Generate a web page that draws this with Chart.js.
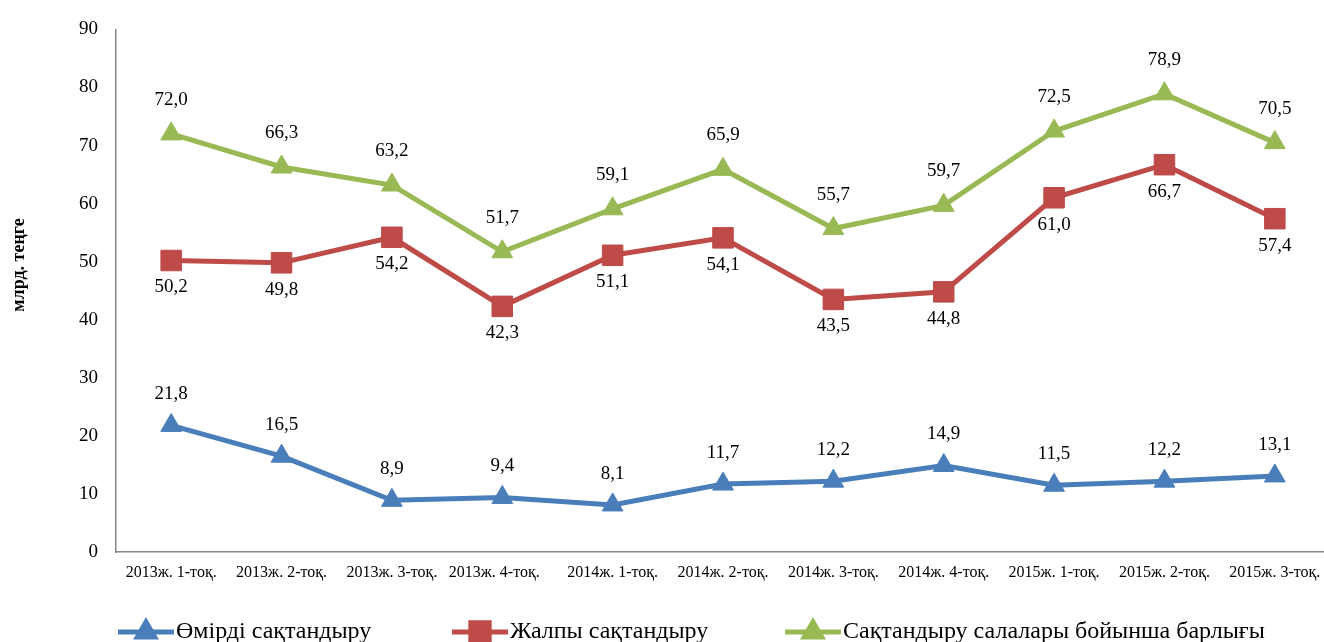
<!DOCTYPE html>
<html>
<head>
<meta charset="utf-8">
<script src="https://cdn.jsdelivr.net/npm/chart.js@4"></script>
<style>
html,body{margin:0;padding:0;overflow:hidden;background:#fff;}
#wrap{width:1332px;height:642px;}
</style>
</head>
<body>
<div id="wrap"><canvas id="c" width="1332" height="642"></canvas></div>
<script>
const categories = ['2013ж. 1-тоқ.', '2013ж. 2-тоқ.', '2013ж. 3-тоқ.', '2013ж. 4-тоқ.    ', '2014ж. 1-тоқ.', '2014ж. 2-тоқ.', '2014ж. 3-тоқ.', '2014ж. 4-тоқ.', '2015ж. 1-тоқ.', '2015ж. 2-тоқ.', '2015ж. 3-тоқ.'];
const lifeInsurance = [21.8, 16.5, 8.9, 9.4, 8.1, 11.7, 12.2, 14.9, 11.5, 12.2, 13.1];
const generalInsurance = [50.2, 49.8, 54.2, 42.3, 51.1, 54.1, 43.5, 44.8, 61.0, 66.7, 57.4];
const totalInsurance = [72.0, 66.3, 63.2, 51.7, 59.1, 65.9, 55.7, 59.7, 72.5, 78.9, 70.5];
const seriesNames = ['Өмірді сақтандыру', 'Жалпы сақтандыру', 'Сақтандыру салалары бойынша барлығы'];
const yTicks = [0, 10, 20, 30, 40, 50, 60, 70, 80, 90];
const yTitle = 'млрд. теңге';

const BLUE = '#4A7EBB', RED = '#BE4B48', GREEN = '#98B954';
const SERIF = '"Liberation Serif", "Times New Roman", serif';

const labelOffsets = [-31, 27, -34];

const dataLabelPlugin = {
  id: 'dataLabels',
  afterDatasetsDraw(chart) {
    const ctx = chart.ctx;
    ctx.save();
    ctx.font = '19px ' + SERIF;
    ctx.fillStyle = '#000';
    ctx.textAlign = 'center';
    ctx.textBaseline = 'middle';
    chart.data.datasets.forEach((ds, di) => {
      const meta = chart.getDatasetMeta(di);
      meta.data.forEach((pt, i) => {
        const v = ds.data[i];
        ctx.fillText(v.toFixed(1).replace('.', ','), pt.x, pt.y + labelOffsets[di]);
      });
    });
    ctx.restore();
  }
};

const extrasPlugin = {
  id: 'extras',
  afterDraw(chart) {
    const ctx = chart.ctx;
    ctx.save();
    ctx.font = 'bold 18px ' + SERIF;
    ctx.fillStyle = '#000';
    ctx.textAlign = 'center';
    ctx.textBaseline = 'middle';
    ctx.translate(19, 265);
    ctx.rotate(-Math.PI / 2);
    ctx.fillText(yTitle, 0, 0);
    ctx.restore();

    ctx.save();
    const colors = [BLUE, RED, GREEN];
    const styles = ['triangle', 'rect', 'triangle'];
    const starts = [118, 452, 785];
    const y = 632;
    ctx.font = '24px ' + SERIF;
    ctx.textBaseline = 'middle';
    ctx.textAlign = 'left';
    seriesNames.forEach((name, i) => {
      const x0 = starts[i];
      ctx.strokeStyle = colors[i];
      ctx.lineWidth = 5;
      ctx.beginPath();
      ctx.moveTo(x0, y);
      ctx.lineTo(x0 + 56, y);
      ctx.stroke();
      ctx.fillStyle = colors[i];
      Chart.helpers.drawPoint(ctx, {pointStyle: styles[i], radius: styles[i] === 'rect' ? 13 : 10, borderWidth: 1}, x0 + 28, y);
      ctx.fillStyle = '#000';
      ctx.fillText(name, x0 + 58, y);
    });
    ctx.restore();
  }
};

const mkDs = (label, data, color, style, r) => ({
  label, data,
  borderColor: color, backgroundColor: color,
  borderWidth: 5,
  pointStyle: style, pointRadius: r, pointHoverRadius: r,
  pointBorderColor: color, pointBackgroundColor: color, pointBorderWidth: 1,
  tension: 0
});

new Chart(document.getElementById('c'), {
  type: 'line',
  data: {
    labels: categories,
    datasets: [
      mkDs(seriesNames[0], lifeInsurance, BLUE, 'triangle', 12),
      mkDs(seriesNames[1], generalInsurance, RED, 'rect', 14.5),
      mkDs(seriesNames[2], totalInsurance, GREEN, 'triangle', 12)
    ]
  },
  options: {
    responsive: false,
    animation: false,
    events: [],
    layout: { autoPadding: false, padding: { top: 24, right: 2, left: 0, bottom: 0 } },
    plugins: { legend: { display: false }, tooltip: { enabled: false } },
    scales: {
      x: {
        offset: true,
        grid: { display: false, drawTicks: false },
        border: { display: true, color: '#868686', width: 1.5 },
        ticks: { font: { family: SERIF, size: 16 }, color: '#000', padding: 11, maxRotation: 0, autoSkip: false },
        afterFit(s) { s.height = 90; }
      },
      y: {
        min: 0, max: 90,
        grid: { display: false, drawTicks: false },
        border: { display: true, color: '#868686', width: 1.5 },
        afterBuildTicks(s) { s.ticks = yTicks.map(v => ({ value: v })); },
        ticks: { font: { family: SERIF, size: 19 }, color: '#000', padding: 18 },
        afterFit(s) { s.width = 116; }
      }
    }
  },
  plugins: [dataLabelPlugin, extrasPlugin]
});
</script>
</body>
</html>
